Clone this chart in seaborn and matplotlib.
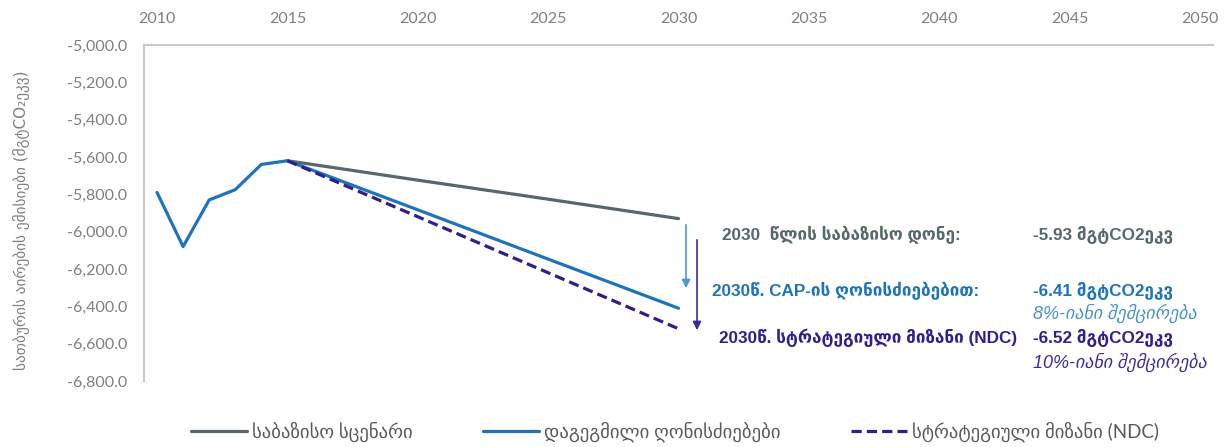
import matplotlib
matplotlib.use("Agg")
import matplotlib.pyplot as plt
import seaborn as sns
import pandas as pd

# Historical emissions (shared start of all scenarios)
hist_years = [2010, 2011, 2012, 2013, 2014, 2015]
hist_values = [-5790, -6080, -5830, -5775, -5640, -5620]

# Projections to 2030
proj_years = [2015, 2020, 2025, 2030]
baseline_values = [-5620, -5724, -5826, -5930]
cap_values = [-5620, -5883, -6147, -6410]
ndc_values = [-5620, -5920, -6220, -6520]

series_labels = ["საბაზისო სცენარი", "დაგეგმილი ღონისძიებები", "სტრატეგიული მიზანი (NDC)"]
x_ticks = [2010, 2015, 2020, 2025, 2030, 2035, 2040, 2045, 2050]
y_ticks = [-5000, -5200, -5400, -5600, -5800, -6000, -6200, -6400, -6600, -6800]
y_title = "სათბურის აირების ემისიები (მგტCO₂ეკვ)"

C_BASE = "#56686c"
C_CAP = "#1f74b9"
C_NDC = "#2f1f8c"
C_GRAY = "#7f7f7f"

sns.set_theme(style="white")
plt.rcParams["font.family"] = ["Lato", "DejaVu Sans"]

W, H = 1229, 447
fig = plt.figure(figsize=(W / 100, H / 100), dpi=100)
ax = fig.add_axes([144 / W, 1 - 381 / H, (1213 - 144) / W, (381 - 45) / H])

df_base = pd.DataFrame({"year": proj_years, "value": baseline_values})
df_cap = pd.DataFrame({"year": hist_years + proj_years[1:], "value": hist_values + cap_values[1:]})
df_ndc = pd.DataFrame({"year": proj_years, "value": ndc_values})

sns.lineplot(data=df_base, x="year", y="value", ax=ax, color=C_BASE, linewidth=2.3,
             label=series_labels[0])
sns.lineplot(data=df_cap, x="year", y="value", ax=ax, color=C_CAP, linewidth=2.3,
             label=series_labels[1])
sns.lineplot(data=df_ndc, x="year", y="value", ax=ax, color=C_NDC, linewidth=2.3,
             linestyle=(0, (3.2, 1.6)), label=series_labels[2])

ax.set_xlim(2009.5, 2050.5)
ax.set_ylim(-6800, -5000)
ax.xaxis.tick_top()
ax.set_xticks(x_ticks)
ax.set_xticklabels([str(t) for t in x_ticks])
ax.set_yticks(y_ticks)
ax.set_yticklabels([f"{v:,.1f}" for v in y_ticks])
ax.tick_params(axis="x", length=0, pad=14, labelsize=11.5, labelcolor=C_GRAY)
ax.tick_params(axis="y", length=0, pad=12, labelsize=11.5, labelcolor=C_GRAY)
ax.set_xlabel("")
ax.set_ylabel("")
ax.grid(False)
for side in ["bottom", "right"]:
    ax.spines[side].set_visible(False)
for side in ["top", "left"]:
    ax.spines[side].set_color("#c8c8c8")
    ax.spines[side].set_linewidth(1.5)

fig.text(22 / W, 1 - 220 / H, y_title, rotation=90, ha="center", va="center",
         fontsize=11, color=C_GRAY, family=["DejaVu Sans"])

handles, labels = ax.get_legend_handles_labels()
ax.get_legend().remove()
leg = fig.legend(handles, labels, loc="center", bbox_to_anchor=(675 / W, 1 - 432 / H),
                 ncol=3, frameon=False, fontsize=13.5, handlelength=3.0,
                 columnspacing=3.75, handletextpad=0.25)
for t in leg.get_texts():
    t.set_color("#595959")
    t.set_family(["Lato", "DejaVu Sans"])


def px(x, y):
    return (x / W, 1 - y / H)


def label(x, y, s, color, weight="bold", style="normal", size=12.3):
    fig.text(*px(x, y), s, color=color, fontsize=size, fontweight=weight,
             fontstyle=style, ha="left", va="center",
             family=["Liberation Sans", "DejaVu Sans"])


label(722, 235, "2030  წლის საბაზისო დონე:", C_BASE)
label(1033, 235, "-5.93 მგტCO2ეკვ", C_BASE)
label(712, 291, "2030წ. CAP-ის ღონისძიებებით:", C_CAP)
label(1033, 291, "-6.41 მგტCO2ეკვ", C_CAP)
label(1033, 313, "8%-იანი შემცირება", "#4a90cc", weight="normal", style="italic", size=13)
label(719, 338, "2030წ. სტრატეგიული მიზანი (NDC)", C_NDC)
label(1033, 338, "-6.52 მგტCO2ეკვ", C_NDC)
label(1033, 362, "10%-იანი შემცირება", "#3d2e95", weight="normal", style="italic", size=13)

fig.add_artist(matplotlib.patches.FancyArrowPatch(
    px(686, 222), px(686, 291), transform=fig.transFigure,
    arrowstyle="-|>,head_length=5,head_width=2.5", color="#4a9ad6", lw=1.2))
fig.add_artist(matplotlib.patches.FancyArrowPatch(
    px(697, 237), px(697, 333), transform=fig.transFigure,
    arrowstyle="-|>,head_length=5,head_width=2.5", color="#3b2d92", lw=1.2))

fig.savefig("out.png", dpi=100, facecolor="white")
